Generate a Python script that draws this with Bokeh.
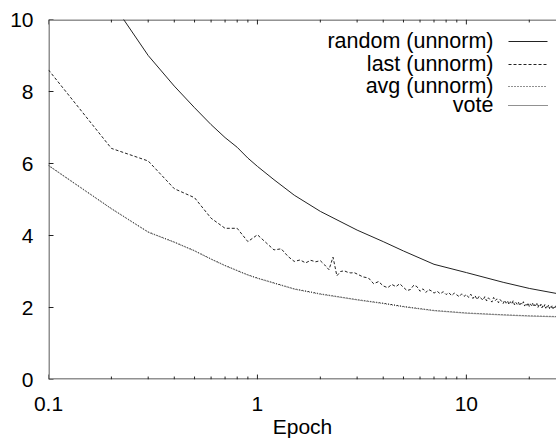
from bokeh.plotting import figure
from bokeh.models import Range1d, FixedTicker, Label, Arrow
from bokeh.embed import file_html
from bokeh.resources import INLINE
import math

# ---------------- data ----------------
x_ticks = [0.1, 1, 10]
x_tick_labels = ["0.1", "1", "10"]
x_minor = [0.2, 0.3, 0.4, 0.5, 0.6, 0.7, 0.8, 0.9,
           2, 3, 4, 5, 6, 7, 8, 9, 20]
y_ticks = [0, 2, 4, 6, 8, 10]

# random (unnorm)
x_random = [0.2, 0.3, 0.4, 0.5, 0.6, 0.7, 0.8, 0.9, 1.0, 1.2,
            1.5, 2.0, 3.0, 4.0, 5.0, 7.0, 10.0, 15.0, 20.0, 27.0]
y_random = [10.5, 9.0, 8.15, 7.55, 7.08, 6.72, 6.45, 6.15, 5.92, 5.55,
            5.12, 4.67, 4.15, 3.83, 3.57, 3.20, 2.97, 2.70, 2.53, 2.39]

# last (unnorm)
x_last = [0.1, 0.2, 0.3, 0.4, 0.5, 0.6, 0.7, 0.8, 0.9, 1.0,
          1.1, 1.2, 1.3, 1.4, 1.5, 1.6, 1.7, 1.8, 1.9, 2.0,
          2.1, 2.2, 2.3, 2.4, 2.5, 2.6, 2.7, 2.8, 2.9, 3.0,
          3.2, 3.4, 3.6, 3.8, 4.0, 4.2, 4.4, 4.6, 4.8, 5.0,
          5.2, 5.4, 5.6, 5.8, 6.0, 6.2, 6.4, 6.6, 6.8, 7.0,
          7.25, 7.5, 7.75, 8.0, 8.25, 8.5, 8.75, 9.0, 9.25, 9.5,
          9.75, 10.0, 10.25, 10.5, 10.75, 11.0, 11.25, 11.5, 11.75, 12.0,
          12.25, 12.5, 12.75, 13.0, 13.25, 13.5, 13.75, 14.0, 14.25, 14.5,
          14.75, 15.0, 15.25, 15.5, 15.75, 16.0, 16.25, 16.5, 16.75, 17.0,
          17.25, 17.5, 17.75, 18.0, 18.25, 18.5, 18.75, 19.0, 19.25, 19.5,
          19.75, 20.0, 20.25, 20.5, 20.75, 21.0, 21.25, 21.5, 21.75, 22.0,
          22.25, 22.5, 22.75, 23.0, 23.25, 23.5, 23.75, 24.0, 24.25, 24.5,
          24.75, 25.0, 25.25, 25.5, 25.75, 26.0, 26.25, 26.5, 26.75, 27.0]
y_last = [8.60, 6.42, 6.07, 5.30, 5.05, 4.48, 4.20, 4.20, 3.83, 4.02,
          3.80, 3.60, 3.63, 3.42, 3.28, 3.32, 3.24, 3.31, 3.27, 3.30,
          3.18, 3.05, 3.40, 2.88, 3.00, 3.02, 2.98, 2.96, 2.97, 2.93,
          2.85, 2.82, 2.66, 2.72, 2.60, 2.55, 2.64, 2.58, 2.66, 2.56,
          2.47, 2.50, 2.62, 2.58, 2.45, 2.52, 2.42, 2.50, 2.46, 2.40,
          2.45, 2.38, 2.44, 2.36, 2.41, 2.33, 2.40, 2.35, 2.30, 2.38,
          2.31, 2.36, 2.28, 2.37, 2.25, 2.33, 2.22, 2.31, 2.26, 2.20,
          2.30, 2.18, 2.27, 2.21, 2.15, 2.28, 2.19, 2.24, 2.13, 2.22,
          2.17, 2.11, 2.20, 2.12, 2.18, 2.08, 2.16, 2.10, 2.19, 2.07,
          2.14, 2.09, 2.15, 2.05, 2.12, 2.08, 2.16, 2.04, 2.11, 2.06,
          2.13, 2.03, 2.10, 2.05, 2.12, 2.02, 2.08, 2.04, 2.11, 2.00,
          2.07, 2.03, 2.09, 1.99, 2.06, 2.02, 2.08, 1.98, 2.05, 2.01,
          2.07, 1.97, 2.04, 2.00, 2.06, 1.97, 2.03, 1.99, 2.05, 1.98]

# avg (unnorm) and vote
x_avg = [0.1, 0.2, 0.3, 0.4, 0.5, 0.6, 0.7, 0.8, 0.9, 1.0,
         1.5, 2.0, 3.0, 4.0, 5.0, 7.0, 10.0, 15.0, 20.0, 27.0]
y_avg = [5.95, 4.75, 4.10, 3.82, 3.58, 3.35, 3.17, 3.03, 2.91, 2.82,
         2.52, 2.38, 2.22, 2.12, 2.03, 1.92, 1.85, 1.80, 1.77, 1.75]
x_vote = [0.1, 0.2, 0.3, 0.4, 0.5, 0.6, 0.7, 0.8, 0.9, 1.0,
          1.5, 2.0, 3.0, 4.0, 5.0, 7.0, 10.0, 15.0, 20.0, 27.0]
y_vote = [5.94, 4.74, 4.09, 3.81, 3.57, 3.34, 3.16, 3.02, 2.90, 2.81,
          2.51, 2.37, 2.21, 2.11, 2.02, 1.91, 1.84, 1.79, 1.76, 1.74]

series_names = ["random (unnorm)", "last (unnorm)", "avg (unnorm)", "vote"]

# ---------------- figure ----------------
FONT = "Liberation Sans"
FS = "21px"
INK = "#222222"

W, H = 556, 440
BL, BR, BT, BB = 48, 0, 19, 57
X0, X1 = 0.1, 27.0
Y0, Y1 = 0, 10

p = figure(width=W, height=H, x_axis_type="log",
           x_range=Range1d(X0, X1), y_range=Range1d(Y0, Y1),
           output_backend="svg", toolbar_location=None,
           min_border_left=BL, min_border_right=BR,
           min_border_top=BT, min_border_bottom=BB)
p.grid.visible = False
p.outline_line_color = None

xa = p.xaxis[0]
xa.ticker = FixedTicker(ticks=x_ticks, minor_ticks=x_minor)
xa.major_label_overrides = {t: l for t, l in zip(x_ticks, x_tick_labels)}
xa.axis_label = "Epoch"

ya = p.yaxis[0]
ya.ticker = FixedTicker(ticks=y_ticks)

for ax in (xa, ya):
    ax.axis_line_color = None
    ax.major_tick_line_color = None
    ax.minor_tick_line_color = None
    ax.major_tick_out = 0
    ax.minor_tick_out = 0
    ax.major_tick_in = 0
    ax.minor_tick_in = 0
    ax.major_label_text_font = FONT
    ax.major_label_text_font_size = FS
    ax.major_label_text_color = "black"
    ax.axis_label_text_font = FONT
    ax.axis_label_text_font_size = FS
    ax.axis_label_text_font_style = "normal"
    ax.axis_label_text_color = "black"

xa.major_label_standoff = 17
xa.axis_label_standoff = 1
ya.major_label_standoff = 15

# ---------------- box (bottom, top, left) with inward ticks, drawn as a broken line ----------------
frame_w = W - BL - BR
frame_h = H - BT - BB
px_per_decade = frame_w / (math.log10(X1) - math.log10(X0))
px_per_unit = frame_h / (Y1 - Y0)
MAJ, MIN = 5, 3
NAN = float("nan")

# half a pixel inside the frame so the clipped edge lines stay fully visible
yb = Y0 + 0.5 / px_per_unit
yt = Y1 - 0.5 / px_per_unit
xl = X0 * 10 ** (0.5 / px_per_decade)

gx = [X1, xl, xl, X1, NAN]
gy = [yb, yb, yt, yt, NAN]
for t, L in [(t, MAJ) for t in x_ticks] + [(t, MIN) for t in x_minor]:
    d = L / px_per_unit
    gx += [t, t, NAN, t, t, NAN]
    gy += [Y0, Y0 + d, NAN, Y1, Y1 - d, NAN]
for v in y_ticks:
    gx += [X0, X0 * 10 ** (MAJ / px_per_decade), NAN]
    gy += [v, v, NAN]
p.line(gx, gy, line_color=INK, line_width=1)

# ---------------- series ----------------
p.line(x_random, y_random, line_color=INK, line_width=1)
p.line(x_last, y_last, line_color=INK, line_width=1, line_dash="3 2")
p.line(x_avg, y_avg, line_color=INK, line_width=1, line_dash="1 2")
p.line(x_vote, y_vote, line_color="#555555", line_width=1, line_dash="1 1")

# ---------------- legend (gnuplot style: text right, sample to its right) ----------------
dashes = ["solid", "3 2", "1 2", "1 1"]
row_y = [338, 315, 293, 274]
for name, dash, yy in zip(series_names, dashes, row_y):
    p.add_layout(Label(x=445, y=yy + 1, x_units="screen", y_units="screen",
                       text=name, text_align="right", text_baseline="middle",
                       text_font=FONT, text_font_size="21.5px", text_color="black"))
    p.add_layout(Arrow(end=None, x_start=460, y_start=yy, x_end=499, y_end=yy,
                       start_units="screen", end_units="screen",
                       line_color=INK, line_width=1, line_dash=dash))

open("out.html", "w").write(file_html(p, INLINE))
